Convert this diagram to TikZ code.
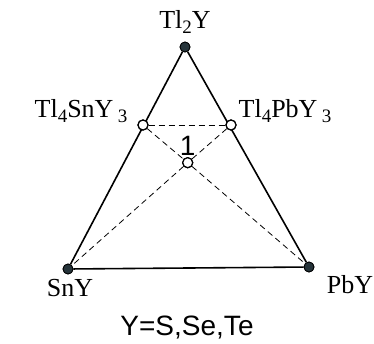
\documentclass[tikz,border=0pt]{standalone}
\usepackage{fontspec}
\setmainfont{Liberation Serif}
\newfontfamily\arialfont{Liberation Sans}
\usetikzlibrary{positioning}
\definecolor{dotgray}{HTML}{26343A}
\tikzset{
  tri/edge/.style={line width=1.6pt, line join=round},
  tri/tie/.style={line width=0.8pt, dash pattern=on 6pt off 4pt},
  tri/corner/.style={circle, draw=black, fill=dotgray, line width=0.8pt, inner sep=0pt, minimum size=10pt},
  tri/compound/.style={circle, draw=black, fill=white, line width=1.2pt, inner sep=0pt, minimum size=10pt},
  tri/label/.style={inner sep=1pt, font=\fontsize{26}{28}\selectfont},
  tri/note/.style={inner sep=0pt, font=\arialfont\fontsize{28}{30}\selectfont}
}
\newcommand{\lowsub}[1]{\raisebox{-0.35ex}{\fontsize{19}{20}\selectfont #1}}
\begin{document}
\begin{tikzpicture}[x=1pt, y=-1pt]
  \useasboundingbox (0,0) rectangle (374,343);
  % vertices of the triangle
  \node[tri/corner] (tly) at (185,47) {};
  \node[tri/corner] (sny) at (68,269) {};
  \node[tri/corner] (pby) at (309,267) {};
  % compounds on the sides
  \node[tri/compound] (tlsn) at (143,125) {};
  \node[tri/compound] (tlpb) at (231,125) {};
  \node[tri/compound] (eut) at (187.7,162.7) {};

  \draw[tri/tie] (tlsn) -- (tlpb);
  \draw[tri/tie] (tlsn) -- (eut) -- (pby);
  \draw[tri/tie] (tlpb) -- (eut) -- (sny);
  \draw[tri/edge] (tly) -- (sny) -- (pby) -- (tly);
  \foreach \v in {tly,sny,pby} \node[tri/corner] at (\v) {};
  \foreach \v in {tlsn,tlpb,eut} \node[tri/compound] at (\v) {};

  % labels
  \node[tri/label] (tlyl) at (185,22) {Tl\lowsub{2}Y};
  \node[tri/label] (tlsnl) at (81,111) {Tl\lowsub{4}SnY\,\lowsub{3}};
  \node[tri/label] (tlpbl) at (285,111) {Tl\lowsub{4}PbY\,\lowsub{3}};
  \node[tri/label] (snyl) at (70,288) {SnY};
  \node[tri/label] (pbyl) at (350,285) {PbY};
  \node[tri/note, above=1pt of eut] (eutl) {1};
  \node[tri/note] (key) at (187,328) {Y=S,Se,Te};
\end{tikzpicture}
\end{document}
